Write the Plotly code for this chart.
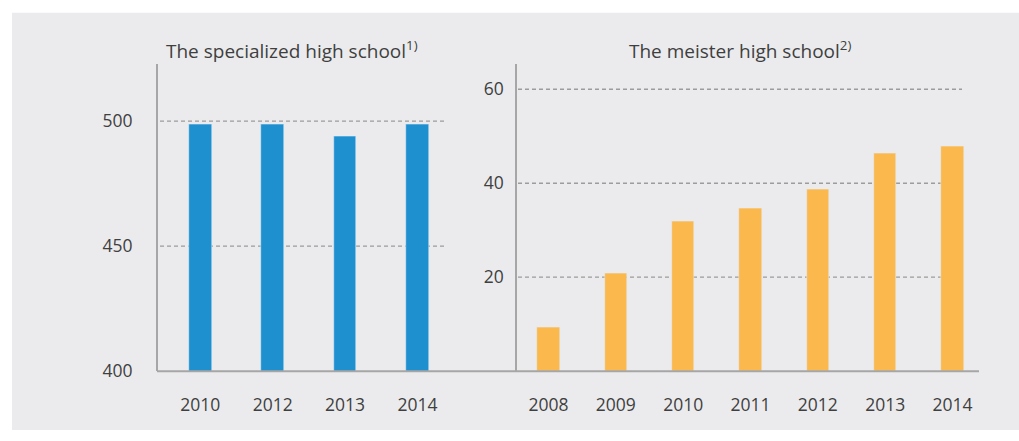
import plotly.graph_objects as go

# ---- data ----
years_specialized = ["2010", "2012", "2013", "2014"]
values_specialized = [498.9, 498.9, 493.9, 498.9]
ticks_specialized = [400, 450, 500]

years_meister = ["2008", "2009", "2010", "2011", "2012", "2013", "2014"]
values_meister = [9.3, 20.8, 31.8, 34.7, 38.7, 46.3, 47.8]
ticks_meister = [20, 40, 60]

title_specialized = "The specialized high school<sup>1)</sup>"
title_meister = "The meister high school<sup>2)</sup>"

# ---- layout constants (pixel positions measured from the top-left) ----
W, H = 1019, 441
def px(x):
    return x / W
def py(y):
    return (H - y) / H

FONT = "Open Sans, sans-serif"
TXT = "#3f3f3f"
BLUE = "#1e90d0"
ORANGE = "#fbb84c"
BG = "#ebebed"
GRID = "#9c9c9c"
AXIS = "#a6a6a6"
TICK_SIZE = 17.5

fig = go.Figure()
fig.add_trace(go.Bar(x=years_specialized, y=values_specialized, marker_color=BLUE,
                     width=0.313, xaxis="x", yaxis="y", hoverinfo="x+y"))
fig.add_trace(go.Bar(x=years_meister, y=values_meister, marker_color=ORANGE,
                     width=0.333, xaxis="x2", yaxis="y2", hoverinfo="x+y"))

y_dom = [py(380.7), py(66)]

shapes = [
    dict(type="rect", xref="paper", yref="paper", x0=px(12), x1=1.0, y0=0, y1=py(13),
         fillcolor=BG, line_width=0, layer="below"),
]
for t in ticks_specialized[1:]:
    shapes.append(dict(type="line", xref="paper", yref="y", x0=px(160), x1=px(444), y0=t, y1=t,
                       line=dict(color=GRID, width=1.3, dash="4px,3px"), layer="below"))
for t in ticks_meister:
    shapes.append(dict(type="line", xref="paper", yref="y2", x0=px(518), x1=px(962), y0=t, y1=t,
                       line=dict(color=GRID, width=1.3, dash="4px,3px"), layer="below"))
# common baseline
shapes.append(dict(type="line", xref="paper", yref="paper", x0=px(157), x1=px(979),
                   y0=py(380.7), y1=py(380.7), line=dict(color=AXIS, width=2), layer="above"))

fig.update_layout(
    width=W, height=H,
    autosize=False,
    margin=dict(l=0, r=0, t=0, b=0),
    paper_bgcolor="white",
    plot_bgcolor="rgba(0,0,0,0)",
    showlegend=False,
    bargap=0,
    font=dict(family=FONT, size=TICK_SIZE, color=TXT),
    xaxis=dict(domain=[px(158), px(454)], anchor="y", type="category",
               range=[-0.584, 3.504], showgrid=False, showline=False, zeroline=False,
               ticks="outside", ticklen=18, tickcolor="rgba(0,0,0,0)",
               tickfont=dict(size=TICK_SIZE, color=TXT, family=FONT)),
    yaxis=dict(domain=y_dom, anchor="x", range=[400, 522.7], tickvals=ticks_specialized,
               showgrid=False, zeroline=False, showline=True, linecolor=AXIS, linewidth=2,
               ticks="outside", ticklen=20, tickcolor="rgba(0,0,0,0)",
               tickfont=dict(size=TICK_SIZE, color=TXT, family=FONT)),
    xaxis2=dict(domain=[px(517), px(979)], anchor="y2", type="category",
                range=[-0.468, 6.394], showgrid=False, showline=False, zeroline=False,
                ticks="outside", ticklen=18, tickcolor="rgba(0,0,0,0)",
                tickfont=dict(size=TICK_SIZE, color=TXT, family=FONT)),
    yaxis2=dict(domain=y_dom, anchor="x2", range=[0, 65.3], tickvals=ticks_meister,
                showgrid=False, zeroline=False, showline=True, linecolor=AXIS, linewidth=1.5,
                ticks="outside", ticklen=8, tickcolor="rgba(0,0,0,0)",
                tickfont=dict(size=TICK_SIZE, color=TXT, family=FONT)),
    shapes=shapes,
    annotations=[
        dict(text=title_specialized, xref="paper", yref="paper", x=px(291.5), y=py(51),
             xanchor="center", yanchor="middle", showarrow=False,
             font=dict(size=19, color=TXT, family=FONT)),
        dict(text=title_meister, xref="paper", yref="paper", x=px(740), y=py(51),
             xanchor="center", yanchor="middle", showarrow=False,
             font=dict(size=19, color=TXT, family=FONT)),
    ],
)

fig.write_html("out.html", config={"responsive": False})
